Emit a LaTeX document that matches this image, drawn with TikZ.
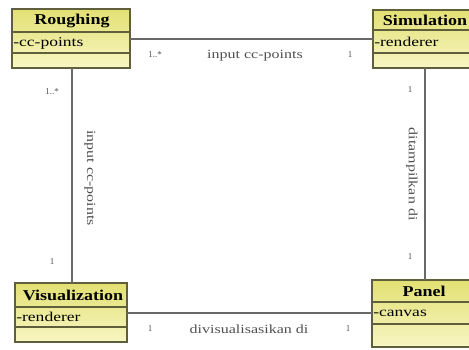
\documentclass[tikz,border=0pt]{standalone}
\usepackage{fontspec}
\setmainfont{Liberation Serif}
\definecolor{boxline}{RGB}{95,95,60}
\definecolor{topfill}{RGB}{226,224,115}
\definecolor{botfill}{RGB}{248,246,195}
\definecolor{wire}{RGB}{105,105,105}
\definecolor{lbl}{RGB}{80,80,80}
\tikzset{
  classbox/.style={draw=boxline, line width=1.1pt, top color=topfill, bottom color=botfill, inner sep=0pt},
  divider/.style={draw=boxline, line width=1.1pt},
  title/.style={font=\fontsize{15}{17}\selectfont\bfseries, inner sep=0pt, xscale=1.2},
  attr/.style={font=\fontsize{13.5}{15}\selectfont, anchor=west, inner sep=0pt, xscale=1.3},
  wireline/.style={draw=wire, line width=1.2pt},
  mult/.style={font=\fontsize{9}{10}\selectfont, text=lbl, inner sep=0pt},
  assoc/.style={font=\fontsize{12.5}{14}\selectfont, text=lbl, inner sep=0pt, xscale=1.28},
  assocv/.style={font=\fontsize{12.5}{14}\selectfont, text=lbl, inner sep=0pt, rotate=-90, xscale=1.28}
}
\begin{document}
\begin{tikzpicture}[x=1pt,y=-1pt]
\useasboundingbox (0,0) rectangle (469,349);
% boxes
\path[classbox] (12,9) rectangle (130,68);
\draw[divider] (12,32) -- (130,32) (12,53) -- (130,53);
\node[title] (roughing) at (72,21) {Roughing};
\node[attr] (rattr) at (13,43) {-cc-points};

\path[classbox] (373,10) rectangle (475,68);
\draw[divider] (373,30) -- (475,30) (373,53) -- (475,53);
\node[title] (simulation) at (425,20) {Simulation};
\node[attr] (sattr) at (374,42) {-renderer};

\path[classbox] (15,283) rectangle (127,342);
\draw[divider] (15,307) -- (127,307) (15,327) -- (127,327);
\node[title] (visualization) at (73,295) {Visualization};
\node[attr] (vattr) at (16,317) {-renderer};

\path[classbox] (372,280) rectangle (475,347);
\draw[divider] (372,302) -- (475,302) (372,324) -- (475,324);
\node[title] (panel) at (424,291) {Panel};
\node[attr] (pattr) at (373,313) {-canvas};

% connector end points
\coordinate (rR) at (130,39);
\coordinate (sL) at (373,39);
\coordinate (rB) at (72,68);
\coordinate (vT) at (72,283);
\coordinate (sB) at (425,68);
\coordinate (pT) at (425,280);
\coordinate (vR) at (127,313);
\coordinate (pL) at (372,313);

\draw[wireline] (rR) -- (sL);
\draw[wireline] (rB) -- (vT);
\draw[wireline] (sB) -- (pT);
\draw[wireline] (vR) -- (pL);

% labels
\node[mult] (m1) at (155,55) {1..*};
\node[assoc] (a1) at (255,56) {input cc-points};
\node[mult] (m2) at (350,55) {1};

\node[mult] (m3) at (52,92) {1..*};
\node[assocv] (a2) at (90,178) {input cc-points};
\node[mult] (m4) at (52,262) {1};

\node[mult] (m5) at (410,90) {1};
\node[assocv] (a3) at (412,174) {ditampilkan di};
\node[mult] (m6) at (410,257) {1};

\node[mult] (m7) at (150,329) {1};
\node[assoc] (a4) at (249,329) {divisualisasikan di};
\node[mult] (m8) at (348,329) {1};
\end{tikzpicture}
\end{document}
